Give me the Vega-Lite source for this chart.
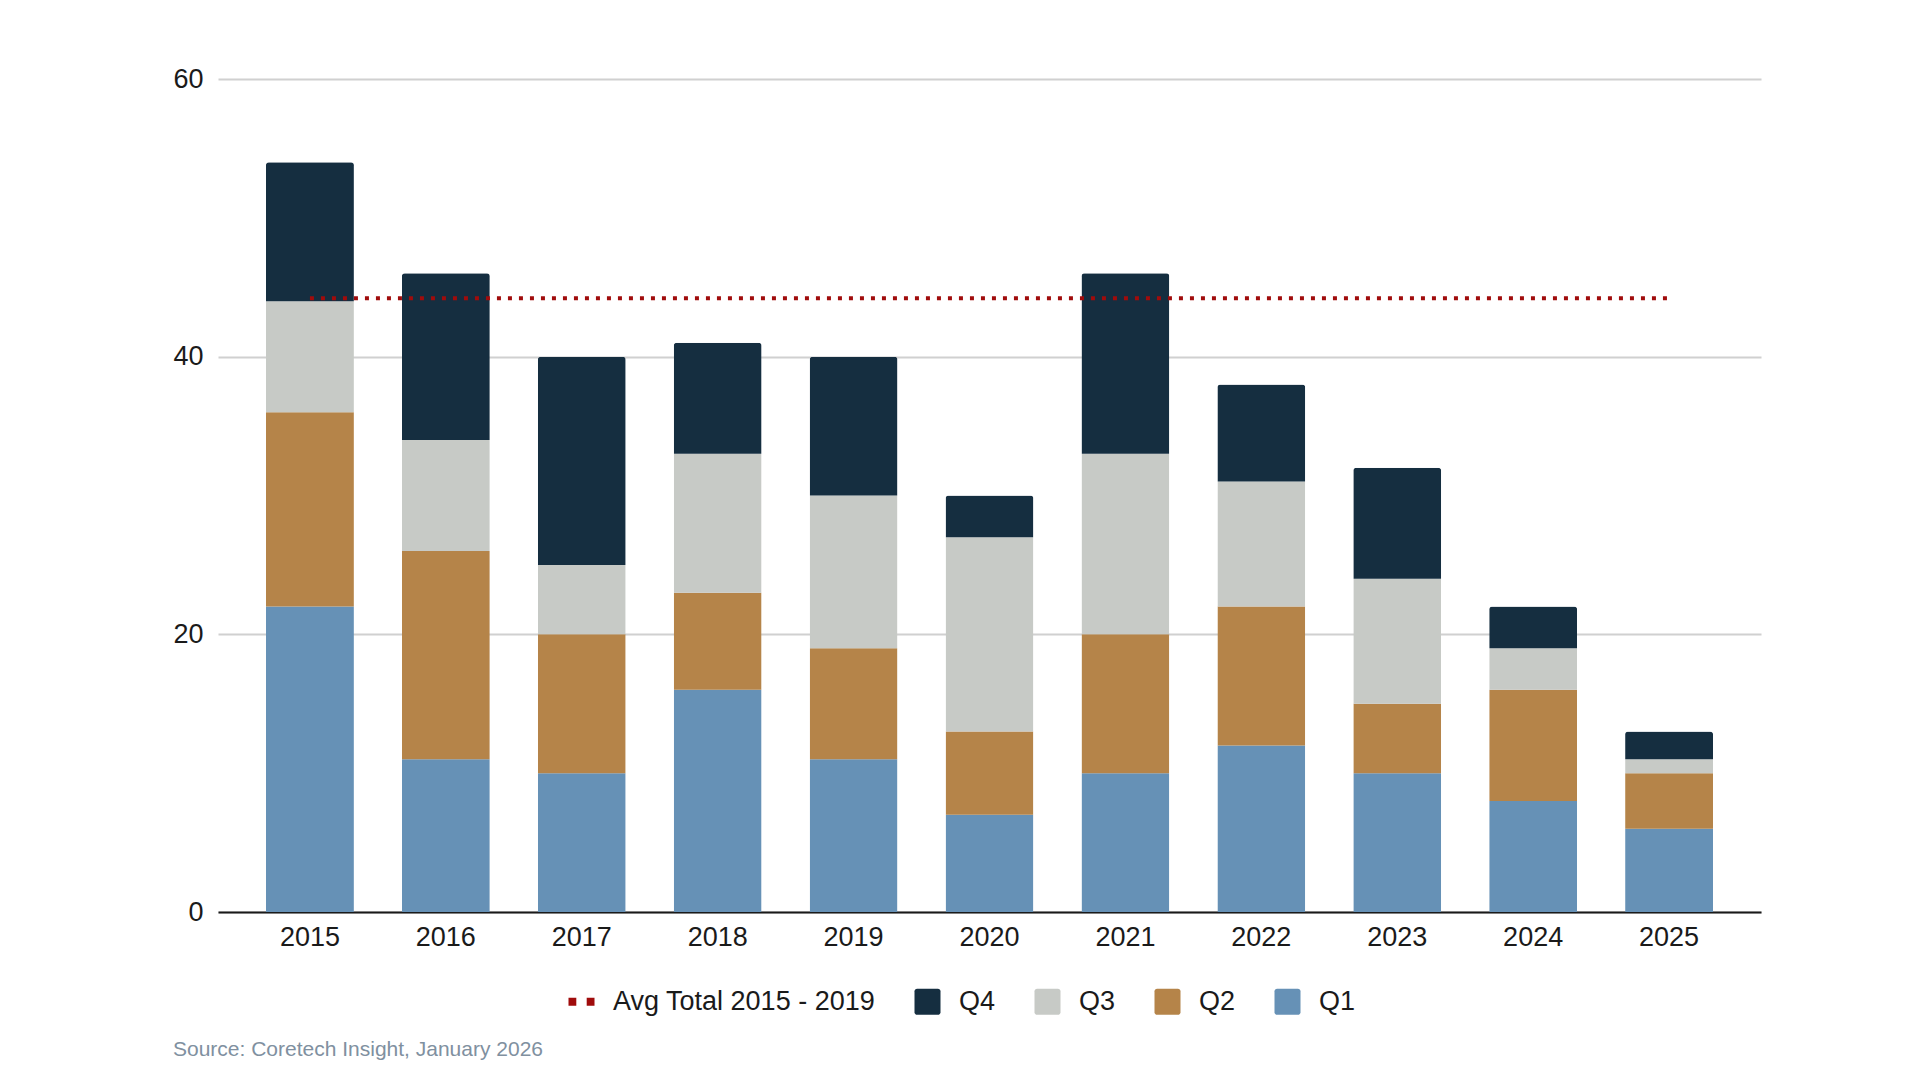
{
  "$schema": "https://vega.github.io/schema/vega-lite/v6.json",
  "width": 1543,
  "height": 833,
  "autosize": {"type": "none"},
  "padding": {"left": 218, "top": 79, "right": 159, "bottom": 168},
  "background": "white",
  "config": {
    "view": {"stroke": null},
    "font": "Liberation Sans",
    "axis": {"labelFont": "Liberation Sans", "labelFontSize": 27, "labelColor": "#1a1a1a", "ticks": false, "title": null},
    "legend": {"labelFont": "Liberation Sans", "labelFontSize": 27, "labelColor": "#1a1a1a"}
  },
  "title": {
    "text": "Source: Coretech Insight, January 2026",
    "orient": "bottom",
    "anchor": "start",
    "frame": "bounds",
    "fontSize": 21,
    "fontWeight": "normal",
    "font": "Liberation Sans",
    "color": "#8090a0",
    "offset": 24
  },
  "datasets": {
    "bars": [
      {"year": "2015", "quarter": "Q1", "value": 22}, {"year": "2015", "quarter": "Q2", "value": 14}, {"year": "2015", "quarter": "Q3", "value": 8}, {"year": "2015", "quarter": "Q4", "value": 10},
      {"year": "2016", "quarter": "Q1", "value": 11}, {"year": "2016", "quarter": "Q2", "value": 15}, {"year": "2016", "quarter": "Q3", "value": 8}, {"year": "2016", "quarter": "Q4", "value": 12},
      {"year": "2017", "quarter": "Q1", "value": 10}, {"year": "2017", "quarter": "Q2", "value": 10}, {"year": "2017", "quarter": "Q3", "value": 5}, {"year": "2017", "quarter": "Q4", "value": 15},
      {"year": "2018", "quarter": "Q1", "value": 16}, {"year": "2018", "quarter": "Q2", "value": 7}, {"year": "2018", "quarter": "Q3", "value": 10}, {"year": "2018", "quarter": "Q4", "value": 8},
      {"year": "2019", "quarter": "Q1", "value": 11}, {"year": "2019", "quarter": "Q2", "value": 8}, {"year": "2019", "quarter": "Q3", "value": 11}, {"year": "2019", "quarter": "Q4", "value": 10},
      {"year": "2020", "quarter": "Q1", "value": 7}, {"year": "2020", "quarter": "Q2", "value": 6}, {"year": "2020", "quarter": "Q3", "value": 14}, {"year": "2020", "quarter": "Q4", "value": 3},
      {"year": "2021", "quarter": "Q1", "value": 10}, {"year": "2021", "quarter": "Q2", "value": 10}, {"year": "2021", "quarter": "Q3", "value": 13}, {"year": "2021", "quarter": "Q4", "value": 13},
      {"year": "2022", "quarter": "Q1", "value": 12}, {"year": "2022", "quarter": "Q2", "value": 10}, {"year": "2022", "quarter": "Q3", "value": 9}, {"year": "2022", "quarter": "Q4", "value": 7},
      {"year": "2023", "quarter": "Q1", "value": 10}, {"year": "2023", "quarter": "Q2", "value": 5}, {"year": "2023", "quarter": "Q3", "value": 9}, {"year": "2023", "quarter": "Q4", "value": 8},
      {"year": "2024", "quarter": "Q1", "value": 8}, {"year": "2024", "quarter": "Q2", "value": 8}, {"year": "2024", "quarter": "Q3", "value": 3}, {"year": "2024", "quarter": "Q4", "value": 3},
      {"year": "2025", "quarter": "Q1", "value": 6}, {"year": "2025", "quarter": "Q2", "value": 4}, {"year": "2025", "quarter": "Q3", "value": 1}, {"year": "2025", "quarter": "Q4", "value": 2}
    ],
    "avg": [
      {"year": "2015", "avg": 44.2},
      {"year": "2025", "avg": 44.2}
    ]
  },
  "layer": [
    {
      "data": {"name": "bars"},
      "mark": {"type": "bar", "cornerRadiusEnd": 3},
      "encoding": {
        "x": {
          "field": "year", "type": "ordinal",
          "scale": {"paddingInner": 0.353, "paddingOuter": 0.353},
          "axis": {"labelAngle": 0, "labelPadding": 12, "domain": true, "domainColor": "#1a1a1a", "domainWidth": 2, "grid": false}
        },
        "y": {
          "field": "value", "type": "quantitative", "aggregate": "sum",
          "stack": "zero",
          "scale": {"domain": [0, 60], "nice": false},
          "axis": {"values": [0, 20, 40, 60], "labelPadding": 15, "domain": false, "grid": true, "gridColor": "#d0d0d0", "gridWidth": 2}
        },
        "color": {
          "field": "quarter", "type": "nominal",
          "scale": {
            "domain": ["Avg Total 2015 - 2019", "Q4", "Q3", "Q2", "Q1"],
            "range": ["#a00c0c", "#152e40", "#c7cac6", "#b58449", "#6691b6"]
          },
          "legend": {
            "title": null,
            "orient": "none",
            "legendX": 350,
            "legendY": 909,
            "direction": "horizontal",
            "symbolSize": 676,
            "symbolStrokeWidth": 0,
            "labelOffset": 18,
            "labelLimit": 0,
            "columnPadding": 38,
            "encode": {
              "symbols": {
                "update": {
                  "shape": {"signal": "datum.value === 'Avg Total 2015 - 2019' ? 'M-1,-0.3H-0.4V0.3H-1Z M0.4,-0.3H1V0.3H0.4Z' : 'M-0.8,-1H0.8A0.2,0.2 0 0 1 1,-0.8V0.8A0.2,0.2 0 0 1 0.8,1H-0.8A0.2,0.2 0 0 1 -1,0.8V-0.8A0.2,0.2 0 0 1 -0.8,-1Z'"},
                  "strokeWidth": {"value": 0},
                  "opacity": {"value": 1}
                }
              }
            }
          }
        },
        "order": {"field": "quarter", "sort": "ascending"}
      }
    },
    {
      "data": {"name": "avg"},
      "mark": {"type": "line", "color": "#a00c0c", "strokeWidth": 4, "strokeDash": [4, 7], "strokeCap": "butt"},
      "encoding": {
        "x": {"field": "year", "type": "ordinal"},
        "y": {"field": "avg", "type": "quantitative"}
      }
    }
  ]
}
